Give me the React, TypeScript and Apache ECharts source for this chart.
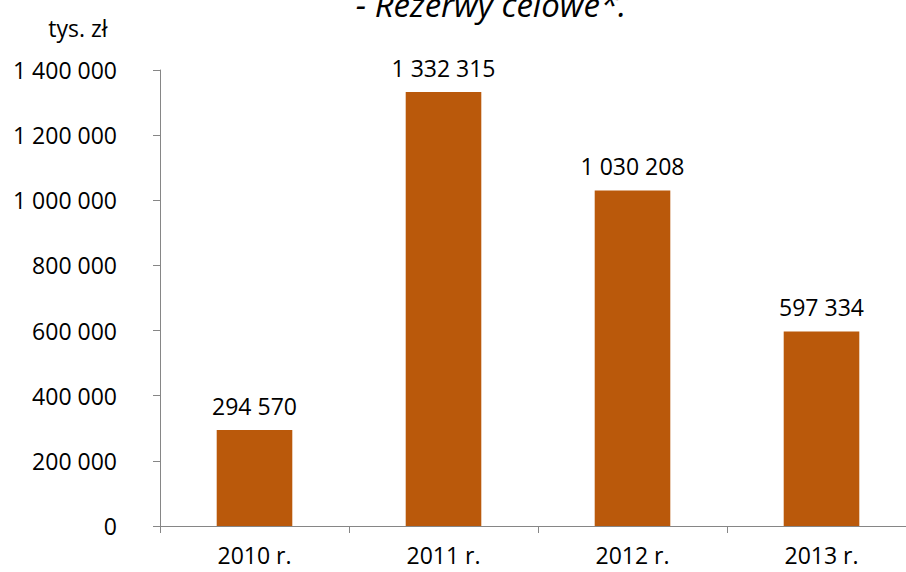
import React, { useEffect, useRef } from "react";
import * as echarts from "echarts";

const categories = ["2010 r.", "2011 r.", "2012 r.", "2013 r."];
const values = [294570, 1332315, 1030208, 597334];
const titleText = "- Rezerwy celowe*.";
const unitText = "tys. zł";

const fmt = (v: number) => String(Math.round(v)).replace(/\B(?=(\d{3})+(?!\d))/g, " ");

export default function App() {
  const ref = useRef<HTMLDivElement>(null);
  useEffect(() => {
    if (!ref.current) return;
    const chart = echarts.init(ref.current, null, { renderer: "svg" });
    const font = "'Open Sans', sans-serif";
    chart.setOption({
      animation: false,
      backgroundColor: "#ffffff",
      textStyle: { fontFamily: font },
      grid: { left: 160, top: 70, right: 0, bottom: 46, containLabel: false },
      graphic: [
        {
          type: "text",
          x: 491,
          y: 4,
          style: {
            text: titleText,
            fontFamily: font,
            fontStyle: "italic",
            fontSize: 33,
            fill: "#000",
            textAlign: "center",
            textVerticalAlign: "middle",
          },
        },
        {
          type: "text",
          x: 78,
          y: 28,
          style: {
            text: unitText,
            fontFamily: font,
            fontSize: 23,
            fill: "#000",
            textAlign: "center",
            textVerticalAlign: "middle",
          },
        },
      ],
      xAxis: {
        type: "category",
        data: categories,
        axisLine: { show: true, lineStyle: { color: "#868686", width: 1 } },
        axisTick: { show: true, length: 7, lineStyle: { color: "#868686" } },
        axisLabel: { color: "#000", fontSize: 23, fontFamily: font, margin: 17 },
        splitLine: { show: false },
      },
      yAxis: {
        type: "value",
        min: 0,
        max: 1400000,
        interval: 200000,
        axisLine: { show: true, lineStyle: { color: "#868686", width: 1 } },
        axisTick: { show: true, length: 7, lineStyle: { color: "#868686" } },
        axisLabel: { color: "#000", fontSize: 23, fontFamily: font, margin: 43, formatter: (v: number) => fmt(v) },
        splitLine: { show: false },
      },
      series: [
        {
          type: "bar",
          data: values,
          barWidth: "40%",
          itemStyle: { color: "#BA590B" },
          label: {
            show: true,
            position: "top",
            distance: 13,
            color: "#000",
            fontSize: 23,
            fontFamily: font,
            formatter: (p: any) => fmt(p.value),
          },
        },
      ],
    });
    return () => chart.dispose();
  }, []);
  return (
    <div
      ref={ref}
      style={{ position: "fixed", left: 0, top: 0, width: 916, height: 572, background: "#fff" }}
    />
  );
}
